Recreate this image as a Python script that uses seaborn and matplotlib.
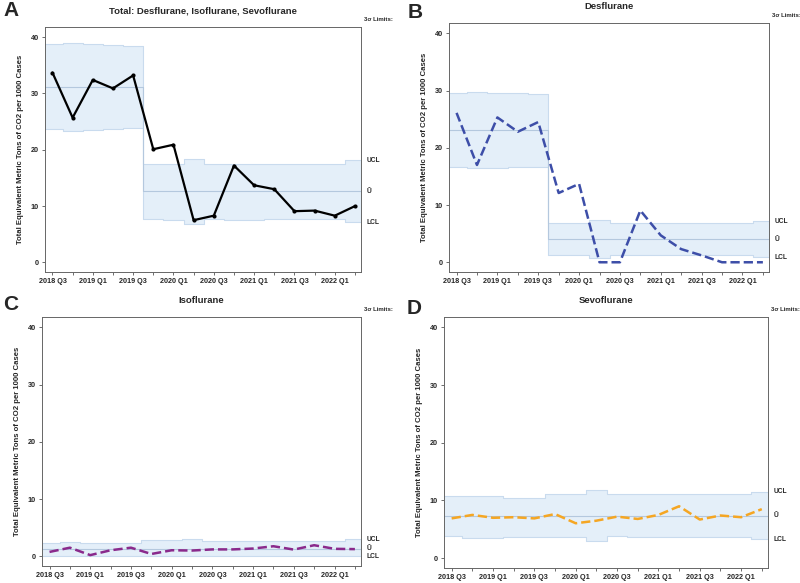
import numpy as np
import pandas as pd
import matplotlib
matplotlib.use("Agg")
import matplotlib.pyplot as plt
import seaborn as sns

sns.set_style("ticks")
plt.rcParams["font.family"] = ["Liberation Sans", "DejaVu Sans"]

# Quarters on the x axis
quarters = ["2018 Q3", "2018 Q4", "2019 Q1", "2019 Q2", "2019 Q3", "2019 Q4",
            "2020 Q1", "2020 Q2", "2020 Q3", "2020 Q4", "2021 Q1", "2021 Q2",
            "2021 Q3", "2021 Q4", "2022 Q1", "2022 Q2"]

# Panel A: total
total_u = [33.7, 25.7, 32.4, 30.9, 33.2, 20.1, 20.9, 7.5, 8.3, 17.2, 13.7, 13.0, 9.1, 9.2, 8.3, 10.0]
total_ucl = [38.7, 38.9, 38.8, 38.6, 38.5, 17.5, 17.5, 18.4, 17.4, 17.5, 17.5, 17.4, 17.4, 17.4, 17.4, 18.1]
total_cl = [31.2] * 5 + [12.6] * 11
total_lcl = [23.7, 23.4, 23.5, 23.7, 23.8, 7.7, 7.6, 6.8, 7.7, 7.6, 7.6, 7.7, 7.7, 7.7, 7.7, 7.1]

# Panel B: desflurane
des_u = [26.1, 17.0, 25.3, 22.8, 24.5, 12.1, 13.7, 0.0, 0.0, 9.05, 4.7, 2.3, 1.2, 0.0, 0.0, 0.0]
des_ucl = [29.6, 29.7, 29.6, 29.5, 29.4, 6.8, 6.9, 7.4, 6.8, 6.9, 6.9, 6.8, 6.8, 6.8, 6.8, 7.2]
des_cl = [23.1] * 5 + [4.0] * 11
des_lcl = [16.6, 16.5, 16.5, 16.6, 16.7, 1.3, 1.2, 0.8, 1.3, 1.2, 1.2, 1.3, 1.3, 1.3, 1.3, 0.9]

# Panel C: isoflurane
iso_u = [0.76, 1.5, 0.2, 1.05, 1.5, 0.4, 1.05, 1.0, 1.2, 1.2, 1.35, 1.75, 1.17, 1.93, 1.3, 1.25]
iso_ucl = [2.35, 2.5, 2.35, 2.35, 2.35, 2.85, 2.85, 3.0, 2.75, 2.75, 2.75, 2.7, 2.75, 2.75, 2.75, 2.95]
iso_cl = [1.3] * 16
iso_lcl = [0.0] * 16

# Panel D: sevoflurane
sevo_u = [6.9, 7.5, 7.0, 7.1, 6.9, 7.65, 6.05, 6.5, 7.2, 6.8, 7.5, 9.0, 6.7, 7.4, 7.1, 8.5]
sevo_ucl = [10.7, 10.75, 10.7, 10.5, 10.5, 11.05, 11.05, 11.75, 11.05, 11.05, 11.2, 11.05, 11.05, 11.05, 11.05, 11.55]
sevo_cl = [7.35] * 16
sevo_lcl = [3.8, 3.5, 3.5, 3.6, 3.6, 3.7, 3.7, 2.9, 3.8, 3.6, 3.6, 3.7, 3.6, 3.6, 3.6, 3.3]

panels = [
    ("A", "Total: Desflurane, Isoflurane, Sevoflurane", total_u, total_ucl, total_cl, total_lcl, "black", "-", True),
    ("B", "Desflurane", des_u, des_ucl, des_cl, des_lcl, "#3d4ea8", "--", False),
    ("C", "Isoflurane", iso_u, iso_ucl, iso_cl, iso_lcl, "#8a2a8c", "--", False),
    ("D", "Sevoflurane", sevo_u, sevo_ucl, sevo_cl, sevo_lcl, "#f5a623", "--", False),
]

# axes rectangles in figure fractions (left, bottom, width, height)
rects = [
    (45 / 800, 1 - 272 / 583, 316 / 800, 245 / 583),
    (449 / 800, 1 - 272 / 583, 320 / 800, 249 / 583),
    (42 / 800, 1 - 566 / 583, 319 / 800, 249 / 583),
    (444 / 800, 1 - 568 / 583, 324 / 800, 251 / 583),
]
# panel letter positions (figure fractions)
letter_pos = [(3 / 800, 1 - 11 / 583), (408 / 800, 1 - 13 / 583),
              (3 / 800, 1 - 305 / 583), (407 / 800, 1 - 309 / 583)]

fig = plt.figure(figsize=(8, 5.83), dpi=100)
x = np.arange(len(quarters))
edges = np.arange(len(quarters) + 1) - 0.5

for (letter, title, u, ucl, cl, lcl, color, ls, markers), rect, lp in zip(panels, rects, letter_pos):
    ax = fig.add_axes(rect)
    ucl_s = list(ucl) + [ucl[-1]]
    lcl_s = list(lcl) + [lcl[-1]]
    cl_s = list(cl) + [cl[-1]]
    ax.fill_between(edges, lcl_s, ucl_s, step="post", color="#e4eff9", lw=0)
    ax.step(edges, ucl_s, where="post", color="#c9dbee", lw=0.8)
    ax.step(edges, lcl_s, where="post", color="#c9dbee", lw=0.8)
    ax.step(edges, cl_s, where="post", color="#b4c8de", lw=0.8)

    df = pd.DataFrame({"x": x, "u": u})
    sns.lineplot(data=df, x="x", y="u", ax=ax, color=color, lw=1.6 if markers else 1.8,
                 linestyle=ls, marker="o" if markers else None, markersize=3,
                 markeredgewidth=0)

    ax.set_xlim(-0.37, 15.3)
    ax.set_ylim(-1.7, 41.8)
    ax.set_yticks([0, 10, 20, 30, 40])
    ax.set_xticks(x)
    ax.set_xticklabels([q if i % 2 == 0 else "" for i, q in enumerate(quarters)])
    ax.tick_params(labelsize=5.2, length=2.5, width=0.6, color="#555555", pad=2)
    for lab in ax.get_xticklabels() + ax.get_yticklabels():
        lab.set_fontweight("bold")
    ax.set_xlabel("")
    ax.set_ylabel("Total Equivalent Metric Tons of CO2 per 1000 Cases", fontsize=5.6,
                  fontweight="bold", labelpad=5)
    for sp in ax.spines.values():
        sp.set_visible(True)
        sp.set_color("#666666")
        sp.set_linewidth(0.7)

    ax.set_title(title, fontsize=6.8, fontweight="bold", pad=10)
    ax.text(1.01, 1.02, "3σ Limits:", transform=ax.transAxes, fontsize=4.3,
            fontweight="bold", ha="left", va="bottom")
    for val, lab in [(ucl[-1], "UCL"), (cl[-1], "Ū"), (lcl[-1], "LCL")]:
        ax.annotate(lab, xy=(1.0, val), xycoords=("axes fraction", "data"),
                    xytext=(4, 0), textcoords="offset points", fontsize=4.8,
                    fontweight="bold", ha="left", va="center")
    fig.text(lp[0], lp[1], letter, fontsize=15, fontweight="bold", ha="left", va="center")

fig.savefig("out.png", dpi=100)
